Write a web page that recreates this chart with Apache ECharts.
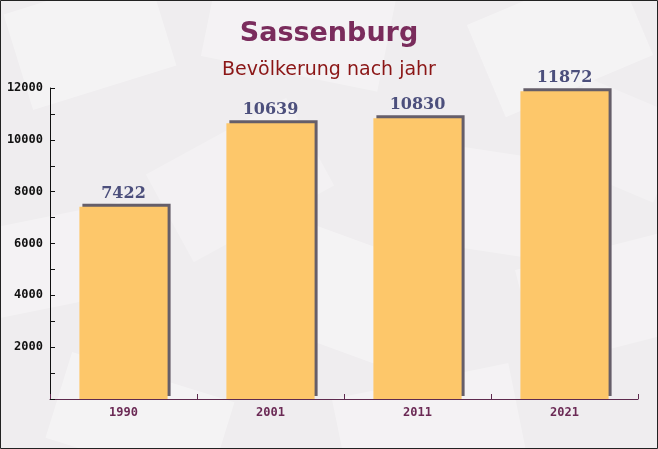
<!DOCTYPE html>
<html><head><meta charset="utf-8">
<script src="https://cdn.jsdelivr.net/npm/echarts@6/dist/echarts.min.js"></script>
<style>html,body{margin:0;padding:0;background:#f0eef0}#c{width:658px;height:449px}</style>
</head><body><div id="c"></div>
<script>
const categories = ['1990', '2001', '2011', '2021'];
const population = [7422, 10639, 10830, 11872];
const titleText = 'Sassenburg';
const subtitleText = 'Bevölkerung nach jahr';

const chart = echarts.init(document.getElementById('c'));
function env(x, y, w, h, rot, op) {
  return {type: 'rect', x: x, y: y, rotation: rot, shape: {x: -w/2, y: -h/2, width: w, height: h},
    style: {fill: 'rgba(255,255,255,' + op + ')'}, z: -10, silent: true};
}
chart.setOption({
  backgroundColor: '#efedef',
  animation: false,
  graphic: [
    env(90, 40, 150, 100, 0.3, 0.35), env(300, 20, 180, 110, -0.2, 0.3), env(560, 40, 160, 100, 0.4, 0.35),
    env(60, 260, 140, 90, 0.2, 0.3), env(360, 300, 170, 110, -0.35, 0.35), env(600, 300, 150, 100, 0.25, 0.3),
    env(240, 180, 160, 100, 0.5, 0.25), env(480, 200, 160, 100, -0.15, 0.3), env(140, 420, 170, 90, -0.3, 0.35),
    env(430, 430, 180, 100, 0.2, 0.3), env(620, 140, 110, 90, -0.4, 0.25),
    {type: 'rect', shape: {x: 0.5, y: 0.5, width: 657, height: 448}, style: {fill: 'none', stroke: '#222', lineWidth: 1}, z: 100, silent: true}
  ],
  title: [
    {text: titleText, left: 'center', top: 15, textStyle: {fontFamily: 'DejaVu Sans', fontWeight: 'bold', fontSize: 27, color: '#7a2c5c'}},
    {text: subtitleText, left: 'center', top: 56, textStyle: {fontFamily: 'DejaVu Sans', fontWeight: 'normal', fontSize: 19, color: '#8b1616'}}
  ],
  grid: {left: 50, right: 20, top: 88, bottom: 50, containLabel: false},
  xAxis: {
    type: 'category', data: categories,
    axisLine: {lineStyle: {color: '#5e2a4e', width: 1}},
    axisTick: {show: true, inside: true, length: 5, alignWithLabel: false, lineStyle: {color: '#5e2a4e'}},
    axisLabel: {fontFamily: 'DejaVu Sans Mono', fontWeight: 'bold', fontSize: 12, color: '#6b2a55', margin: 8}
  },
  yAxis: {
    type: 'value', min: 0, max: 12000, interval: 2000,
    axisLine: {show: true, lineStyle: {color: '#111', width: 1}},
    axisTick: {show: true, inside: true, length: 5, lineStyle: {color: '#111'}},
    minorTick: {show: true, splitNumber: 2, length: 5, lineStyle: {color: '#111'}},
    splitLine: {show: false},
    axisLabel: {fontFamily: 'DejaVu Sans Mono', fontWeight: 'bold', fontSize: 12, color: '#111', margin: 7,
      formatter: v => v === 0 ? '' : String(v)}
  },
  series: [{
    type: 'bar', data: population, barWidth: '60%',
    itemStyle: {color: '#fdc76a', shadowColor: 'rgba(85,78,90,0.9)', shadowBlur: 0, shadowOffsetX: 3, shadowOffsetY: -3},
    label: {show: true, position: 'top', distance: 5, fontFamily: 'DejaVu Serif', fontWeight: 'bold', fontSize: 16, color: '#4c4f7c'}
  }]
});
</script></body></html>
